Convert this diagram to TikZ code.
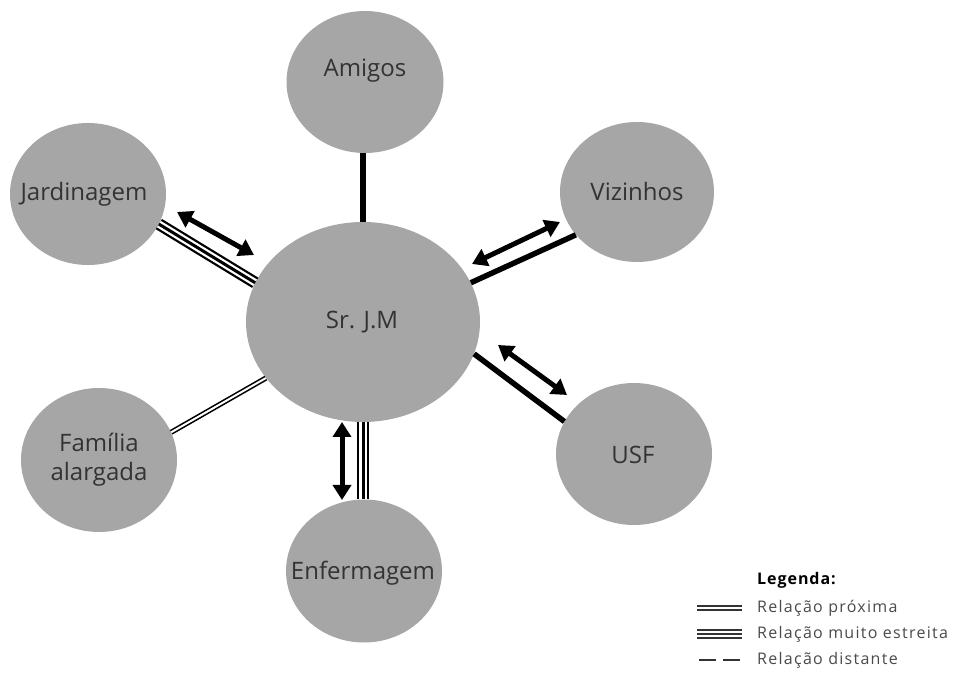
\documentclass[tikz,border=0pt]{standalone}
\usepackage{fontspec}
\setmainfont{Open Sans}
\usetikzlibrary{shapes.geometric,arrows.meta}
\definecolor{bubblegray}{HTML}{A6A6A6}
\definecolor{inkgray}{HTML}{333333}
\definecolor{legendgray}{HTML}{4A4A4A}
\begin{document}
\begin{tikzpicture}[x=1pt,y=-1pt,
  bubble/.style={ellipse, fill=bubblegray, draw=none, inner sep=0pt},
  bubbletext/.style={text=inkgray, align=center, inner sep=0pt,
    font=\fontsize{24}{29}\selectfont},
  single/.style={line width=5.5pt},
  closetie/.style={draw=black, double=white, line width=1.6pt, double distance=2pt},
  strongtie/.style={preaction={draw=black, line width=12pt},
    draw=white, line width=7.5pt,
    postaction={draw=black, line width=3pt}},
  twoway/.style={{Triangle[length=15pt,width=18pt]}-{Triangle[length=15pt,width=18pt]},
    line width=5pt},
  legendtitle/.style={anchor=west, text=black, inner sep=0pt,
    font=\fontsize{16}{19}\selectfont\bfseries\addfontfeatures{LetterSpace=6}},
  legendtext/.style={anchor=west, text=legendgray, inner sep=0pt,
    font=\fontsize{16}{19}\selectfont\addfontfeatures{LetterSpace=8}},
]
\useasboundingbox (0,0) rectangle (954,684);

% the person and the circles around him
\node[bubble, minimum width=234pt, minimum height=200pt] (sr) at (363,322) {};
\node[bubble, minimum width=157pt, minimum height=142pt] (ami) at (365,82) {};
\node[bubble, minimum width=156pt, minimum height=142pt] (jar) at (88,194) {};
\node[bubble, minimum width=154pt, minimum height=140pt] (viz) at (637,192) {};
\node[bubble, minimum width=156pt, minimum height=142pt] (usf) at (634,454) {};
\node[bubble, minimum width=156pt, minimum height=144pt] (fam) at (99,460) {};
\node[bubble, minimum width=156pt, minimum height=143pt] (enf) at (364,571) {};

% names inside the circles
\node[bubbletext] (srtext)  at (362,322) {Sr. J.M};
\node[bubbletext] (amitext) at (365,71)  {Amigos};
\node[bubbletext] (jartext) at (84,194)  {Jardinagem};
\node[bubbletext] (viztext) at (637,192) {Vizinhos};
\node[bubbletext] (usftext) at (633,455) {USF};
\node[bubbletext] (famtext) at (99,460)  {Família\\alargada};
\node[bubbletext] (enftext) at (363,573) {Enfermagem};

% ties between Sr. J.M and each circle
\draw[single] (sr.north) -- (sr.north |- ami.south);
\draw[strongtie] (jar.-23) -- (sr.160);
\draw[single] (sr.20) -- (viz.215);
\draw[single] (sr.-16) -- (usf.155);
\draw[closetie] (sr.210) -- (fam.21);
\draw[strongtie] (sr.south) -- (sr.south |- enf.north);

% reciprocal exchanges
\coordinate (ja1) at (177,212); \coordinate (ja2) at (254,255);
\coordinate (va1) at (472,264); \coordinate (va2) at (560,222);
\coordinate (ua1) at (498,345); \coordinate (ua2) at (567,395);
\coordinate (ea1) at (342,422); \coordinate (ea2) at (342,500);
\draw[twoway] (ja1) -- (ja2);
\draw[twoway] (va1) -- (va2);
\draw[twoway] (ua1) -- (ua2);
\draw[twoway] (ea1) -- (ea2);

% legend
\node[legendtitle] (legtitle) at (757,580) {Legenda:};
\coordinate (l1a) at (697,608); \coordinate (l1b) at (742,608);
\coordinate (l2a) at (697,634); \coordinate (l2b) at (742,634);
\coordinate (l3a) at (699,660); \coordinate (l3b) at (742,660);
\draw[draw=black!80, double=white, line width=2pt, double distance=2.5pt] (l1a) -- (l1b);
\draw[preaction={draw=black!80, line width=10pt}, draw=white, line width=6pt,
  postaction={draw=black!80, line width=2.2pt}] (l2a) -- (l2b);
\draw[black!80, line width=1.5pt, dash pattern=on 17pt off 7pt] (l3a) -- (l3b);
\node[legendtext] (leg1) at (757,608) {Relação próxima};
\node[legendtext] (leg2) at (757,634) {Relação muito estreita};
\node[legendtext] (leg3) at (757,660) {Relação distante};
\end{tikzpicture}
\end{document}
